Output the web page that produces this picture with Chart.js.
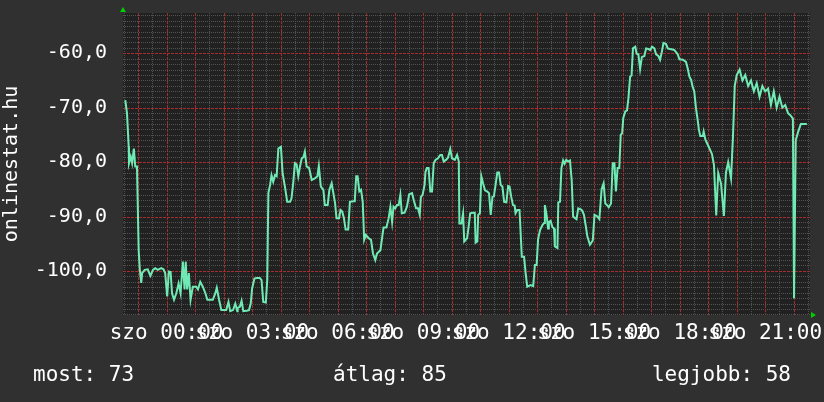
<!DOCTYPE html>
<html>
<head>
<meta charset="utf-8">
<script src="https://cdn.jsdelivr.net/npm/chart.js@4.4.1/dist/chart.umd.min.js"></script>
<style>
html, body { margin: 0; padding: 0; background: #303030; }
</style>
</head>
<body>
<canvas id="grafikon" width="824" height="402"></canvas>
<script>
// Idopontok (ora, szombat 00:00-tol) es mert ertekek
const orak = [
  -1.45,-1.39,-1.33,-1.32,-1.26,-1.21,-1.15,-1.10,-1.04,-0.98,-0.94,-0.89,-0.86,-0.77,-0.66,-0.57,-0.48,-0.40,-0.31,-0.19,
  -0.11,-0.05,0.02,0.08,0.14,0.19,0.26,0.34,0.42,0.49,0.57,0.63,0.67,0.72,0.78,0.84,0.92,1.04,1.10,1.18,
  1.27,1.36,1.43,1.62,1.71,1.76,1.84,1.92,2.09,2.17,2.23,2.33,2.41,2.48,
  2.49,2.57,2.63,2.69,2.81,2.89,2.95,3.00,3.08,3.16,3.27,3.33,3.39,3.48,3.53,3.57,3.63,3.68,3.74,3.80,
  3.86,3.92,4.01,4.07,4.15,4.23,4.33,4.38,4.44,4.50,4.56,4.62,4.68,4.74,4.80,4.85,4.91,5.00,5.09,5.20,
  5.29,5.34,5.41,5.50,5.55,5.65,5.71,5.79,5.85,5.91,5.96,6.05,6.10,6.16,6.22,6.28,6.37,6.43,6.55,
  6.60,6.65,6.70,6.76,6.82,6.88,6.93,6.99,7.09,7.17,7.24,7.32,7.38,7.50,7.55,7.61,7.71,7.79,7.85,7.91,
  7.96,8.02,8.08,8.14,8.20,8.25,8.35,8.43,8.51,8.61,8.67,8.75,8.82,8.88,8.92,8.98,9.05,9.08,9.13,9.19,
  9.25,9.31,9.37,9.43,9.52,9.60,9.66,9.72,9.80,9.87,9.95,10.01,10.11,10.19,10.25,10.27,10.34,10.40,10.44,10.54,
  10.59,10.65,
  10.75,10.81,10.84,10.90,10.93,10.99,11.04,11.10,11.17,11.25,11.31,11.37,11.43,11.48,11.54,11.60,11.66,11.72,11.78,11.84,
  11.92,11.98,12.03,12.09,12.15,12.21,12.24,12.30,12.38,12.46,12.54,12.60,12.65,12.77,12.86,12.92,12.98,13.03,13.10,13.18,
  13.24,13.27,13.33,13.38,13.41,13.47,13.53,13.59,13.62,13.71,13.74,13.80,13.85,13.91,13.96,14.02,14.09,14.15,14.21,14.26,
  14.33,14.38,14.44,14.53,14.58,14.64,14.70,14.76,
  14.85,14.95,15.01,15.09,15.18,15.26,15.33,15.39,15.45,15.51,15.59,15.65,15.71,15.76,15.82,15.88,15.93,15.98,16.02,16.09,
  16.15,16.20,16.26,16.31,16.36,16.44,16.49,16.55,16.61,16.67,16.76,16.82,16.90,16.96,17.03,17.11,17.17,17.25,17.31,17.37,
  17.43,17.52,17.58,17.66,17.75,17.81,17.87,17.93,17.99,18.11,18.22,18.28,18.34,18.40,18.45,18.51,18.57,18.63,18.67,18.72,
  18.81,18.84,18.90,
  19.00,19.13,19.20,19.28,19.35,19.45,19.55,19.62,19.70,19.80,19.87,19.93,20.00,20.10,20.20,20.30,20.40,20.50,20.60,20.70,
  20.80,20.90,21.00,21.10,21.20,21.30,21.40,21.50,21.60,21.70,21.80,21.90,21.97,22.01,22.07,22.15,22.25,22.46
];
const ertekek = [
  -68.6,-71.0,-77.2,-80.2,-79.0,-80.2,-77.5,-80.8,-80.8,-96.2,-99.8,-102.2,-100.4,-99.8,-99.7,-100.9,-99.8,-99.5,-99.8,-99.5,
  -99.7,-100.4,-104.7,-100.1,-100.2,-104.1,-105.3,-104.1,-102.3,-104.1,-98.3,-103.4,-98.3,-103.4,-100.4,-105.3,-102.9,-102.9,-103.4,-102.0,
  -102.9,-104.1,-105.3,-105.3,-104.1,-103.1,-105.3,-107.2,-107.2,-105.7,-107.4,-107.2,-106.0,-107.4,
  -106.8,-106.6,-105.5,-107.4,-107.3,-107.2,-106.0,-103.2,-101.4,-101.3,-101.3,-101.7,-105.7,-105.8,-101.7,-85.7,-84.2,-82.4,-83.6,-82.4,
  -82.6,-77.5,-77.2,-82.1,-84.5,-87.3,-87.3,-86.7,-83.9,-80.2,-80.4,-82.6,-80.8,-79.3,-79.1,-78.1,-80.8,-81.1,-83.3,-83.0,
  -82.6,-80.7,-84.5,-85.1,-87.9,-87.9,-85.1,-83.9,-85.7,-87.6,-90.3,-90.3,-88.8,-89.1,-90.3,-92.4,-92.4,-87.3,-87.2,
  -87.2,-82.6,-82.6,-85.4,-85.1,-87.3,-94.3,-93.4,-94.0,-94.3,-96.8,-98.0,-96.8,-96.2,-94.3,-92.0,-92.0,-90.3,-88.2,-91.0,
  -88.2,-88.5,-87.9,-87.9,-86.0,-89.4,-89.3,-88.2,-85.9,-85.7,-87.0,-88.5,-88.5,-89.7,-86.4,-86.0,-84.2,-81.8,-81.1,-81.1,
  -85.4,-85.4,-80.2,-79.6,-79.3,-78.7,-78.7,-79.9,-79.6,-79.2,-77.6,-79.3,-79.6,-78.7,-79.9,-91.3,-91.3,-89.4,-94.6,-94.0,
  -92.1,-89.4,
  -89.3,-89.3,-94.8,-94.6,-89.7,-89.4,-82.6,-83.9,-85.2,-85.4,-85.7,-89.7,-86.4,-86.3,-84.2,-81.9,-81.9,-84.2,-84.5,-87.3,
  -87.4,-84.4,-84.5,-86.4,-87.9,-88.0,-89.4,-88.8,-88.8,-97.4,-97.4,-100.7,-102.9,-102.6,-102.8,-98.9,-98.9,-94.2,-92.5,-91.6,
  -91.2,-87.9,-89.7,-92.2,-91.0,-90.8,-91.9,-92.2,-95.5,-95.8,-87.4,-87.3,-81.1,-79.7,-80.3,-79.6,-79.9,-79.7,-83.3,-90.0,
  -90.3,-90.5,-88.5,-88.7,-88.9,-89.7,-91.6,-93.7,
  -95.2,-94.4,-89.7,-89.9,-90.5,-85.0,-83.9,-87.6,-87.9,-88.3,-87.6,-80.2,-80.2,-85.4,-81.1,-81.1,-75.0,-74.7,-71.9,-70.7,
  -70.5,-68.3,-64.3,-64.1,-59.1,-58.8,-60.1,-60.2,-62.9,-60.7,-60.5,-59.1,-59.2,-59.4,-58.8,-59.1,-60.2,-60.5,-61.2,-59.8,
  -58.1,-58.3,-59.1,-59.2,-59.3,-59.4,-59.8,-60.2,-61.1,-61.2,-61.6,-62.8,-64.3,-64.9,-66.1,-67.0,-70.1,-72.3,-74.0,-75.2,
  -75.2,-74.4,-75.9,
  -77.0,-78.5,-80.5,-89.8,-82.0,-84.0,-89.9,-82.0,-80.0,-83.0,-75.0,-66.0,-64.0,-63.0,-65.0,-64.0,-66.0,-65.0,-67.0,-65.5,
  -68.0,-66.0,-67.0,-66.5,-69.5,-67.0,-70.0,-68.0,-70.0,-69.5,-71.0,-71.5,-72.0,-105.0,-76.0,-74.5,-73.0,-73.0
];

// Tengely feliratok
const cimkeOrak = [0, 3, 6, 9, 12, 15, 18, 21];
const cimkek = ['szo 00:00', 'szo 03:00', 'szo 06:00', 'szo 09:00', 'szo 12:00', 'szo 15:00', 'szo 18:00', 'szo 21:00'];
const xMin = -1.53, xMax = 22.57;
const yMin = -108.1, yMax = -52.6;
const cimTengely = 'onlinestat.hu';
const osszesito = ['most: 73', 'átlag: 85', 'legjobb: 58'];

const pontok = orak.map((o, i) => ({ x: o, y: ertekek[i] }));

const BETU = '"DejaVu Sans Mono", monospace';
const PIROS = 'rgb(160,48,48)';
const SZURKE = 'rgb(82,82,82)';

// ora egesz? (piros fovonal)
function egeszOra(v) {
    return Math.abs(v - Math.round(v)) < 0.01;
}

// Hatter, racs, nyilak, also osszesito
const rajzolo = {
    id: 'rajzolo',
    beforeDraw(chart) {
        const c = chart.ctx;
        const a = chart.chartArea;
        c.save();
        c.fillStyle = '#303030';
        c.fillRect(0, 0, chart.width, chart.height);
        c.fillStyle = '#212121';
        c.fillRect(a.left, a.top, a.right - a.left, a.bottom - a.top);
        c.restore();
    },
    beforeDatasetsDraw(chart) {
        const c = chart.ctx;
        const a = chart.chartArea;
        const sx = chart.scales.x, sy = chart.scales.y;
        const fuggoleges = [], vizszintes = [];
        sx.ticks.forEach(t => fuggoleges.push({ p: Math.round(sx.getPixelForValue(t.value)) + 0.5, fo: egeszOra(t.value) }));
        sy.ticks.forEach(t => vizszintes.push({ p: Math.round(sy.getPixelForValue(t.value)) + 0.5, fo: Math.round(t.value) % 10 === 0 }));
        c.save();
        c.lineWidth = 1;
        // szurke mellekvonalak
        c.setLineDash([1, 1]);
        c.strokeStyle = SZURKE;
        fuggoleges.filter(g => !g.fo).forEach(g => {
            c.beginPath(); c.moveTo(g.p, a.top); c.lineTo(g.p, a.bottom); c.stroke();
        });
        vizszintes.filter(g => !g.fo).forEach(g => {
            c.beginPath(); c.moveTo(a.left, g.p); c.lineTo(a.right, g.p); c.stroke();
        });
        // piros fovonalak
        c.setLineDash([3, 1]);
        c.strokeStyle = PIROS;
        fuggoleges.filter(g => g.fo).forEach(g => {
            c.beginPath(); c.moveTo(g.p, a.top); c.lineTo(g.p, a.bottom); c.stroke();
        });
        vizszintes.filter(g => g.fo).forEach(g => {
            c.beginPath(); c.moveTo(a.left, g.p); c.lineTo(a.right, g.p); c.stroke();
        });
        c.restore();
    },
    afterDraw(chart) {
        const c = chart.ctx;
        const a = chart.chartArea;
        c.save();
        c.fillStyle = '#00d000';
        c.beginPath();
        c.moveTo(a.left - 3, a.top - 1);
        c.lineTo(a.left + 3, a.top - 1);
        c.lineTo(a.left, a.top - 6);
        c.fill();
        c.beginPath();
        c.moveTo(a.right + 1, a.bottom - 3);
        c.lineTo(a.right + 1, a.bottom + 3);
        c.lineTo(a.right + 6, a.bottom);
        c.fill();

        c.fillStyle = '#ffffff';
        c.font = '21px ' + BETU;
        c.textBaseline = 'alphabetic';
        c.textAlign = 'left';
        c.fillText(osszesito[0], 33, 381);
        c.fillText(osszesito[1], 333, 381);
        c.textAlign = 'right';
        c.fillText(osszesito[2], 791, 381);
        c.restore();
    }
};

const ctx = document.getElementById('grafikon').getContext('2d');
const grafikon = new Chart(ctx, {
    type: 'line',
    data: {
        datasets: [{
            data: pontok,
            borderColor: '#70eab4',
            borderWidth: 2,
            pointRadius: 0,
            fill: false,
            tension: 0
        }]
    },
    options: {
        responsive: false,
        animation: false,
        devicePixelRatio: 1,
        layout: { padding: { top: 13, right: 14, left: 0, bottom: 0 } },
        plugins: {
            legend: { display: false },
            tooltip: { enabled: false }
        },
        scales: {
            x: {
                type: 'linear',
                min: xMin,
                max: xMax,
                afterBuildTicks(scale) {
                    const t = [];
                    for (let v = Math.ceil(xMin * 2) / 2; v <= xMax; v += 0.5) t.push({ value: v });
                    scale.ticks = t;
                },
                afterFit(scale) {
                    scale.height = 87;
                    scale.paddingLeft = 0;
                    scale.paddingRight = 0;
                },
                grid: { display: false, drawTicks: false },
                border: { display: false },
                ticks: {
                    autoSkip: false,
                    maxRotation: 0,
                    minRotation: 0,
                    padding: 6,
                    color: '#ffffff',
                    font: { family: BETU, size: 21 },
                    callback: v => {
                        const i = cimkeOrak.indexOf(v);
                        return i >= 0 ? cimkek[i] : '';
                    }
                }
            },
            y: {
                type: 'linear',
                min: yMin,
                max: yMax,
                afterBuildTicks(scale) {
                    const t = [];
                    for (let v = Math.ceil(yMin); v <= yMax; v += 1) t.push({ value: v });
                    scale.ticks = t;
                },
                afterFit(scale) {
                    scale.width = 123;
                    scale.paddingTop = 0;
                    scale.paddingBottom = 0;
                },
                grid: { display: false, drawTicks: false },
                border: { display: false },
                title: {
                    display: true,
                    text: cimTengely,
                    color: '#ffffff',
                    font: { family: BETU, size: 20 },
                    padding: 0
                },
                ticks: {
                    autoSkip: false,
                    padding: 16,
                    color: '#ffffff',
                    font: { family: BETU, size: 20 },
                    callback: v => (v % 10 === 0) ? v.toFixed(1).replace('.', ',') : ''
                }
            }
        }
    },
    plugins: [rajzolo]
});
</script>
</body>
</html>
